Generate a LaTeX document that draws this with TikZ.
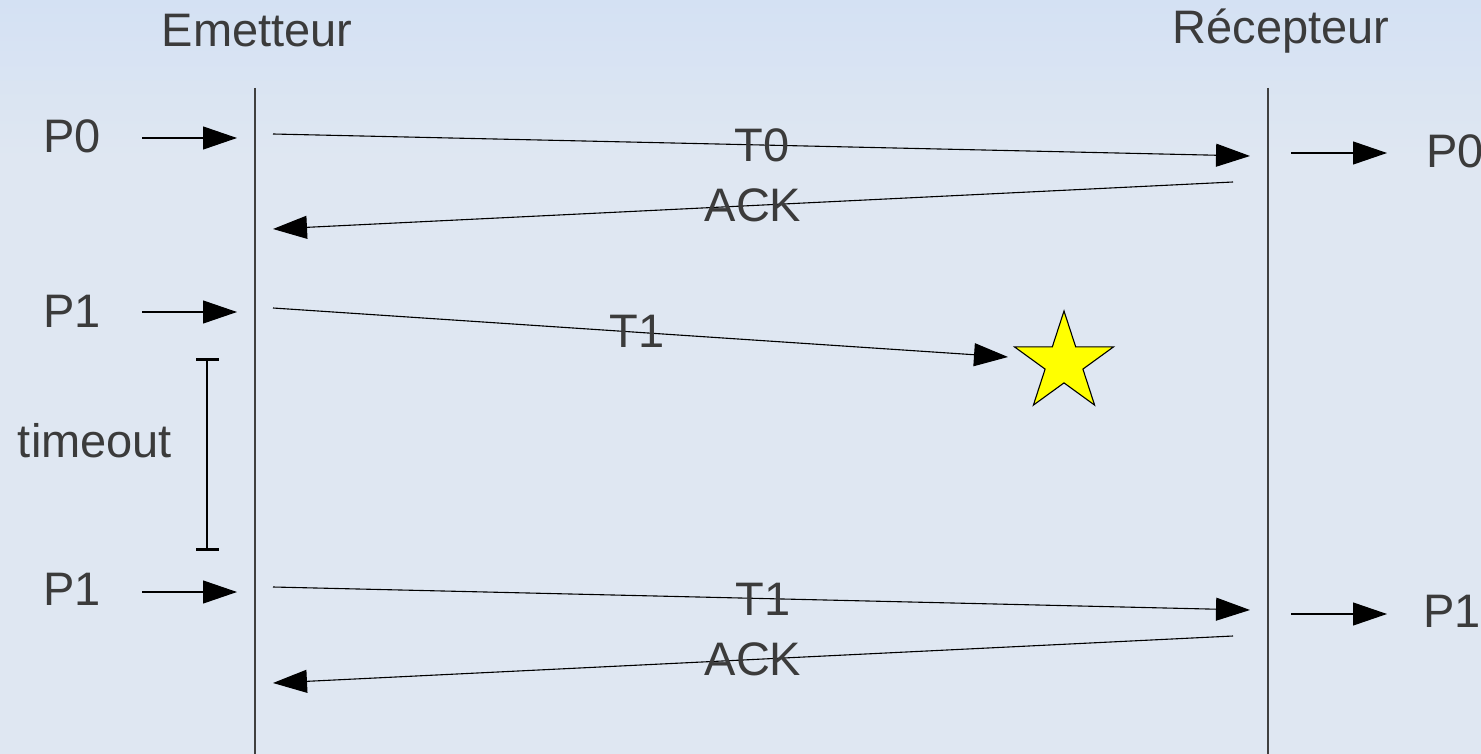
\documentclass[tikz,border=0pt]{standalone}
\usepackage{fontspec}
\setmainfont{Liberation Sans}
\usetikzlibrary{arrows.meta}
\definecolor{bgtop}{HTML}{D4E1F3}
\definecolor{bgbot}{HTML}{DFE7F2}
\definecolor{txt}{HTML}{3B3B3B}
\definecolor{staryellow}{HTML}{FFFF00}
\begin{document}
\begin{tikzpicture}[x=1pt,y=-1pt,
  lbl/.style={text=txt,font=\fontsize{47}{56}\selectfont,inner sep=0pt,anchor=center},
  msg/.style={line width=1.1pt,-{Triangle[length=34pt,width=23pt]}},
  life/.style={line width=1.2pt,draw=black!75},
  tbar/.style={line width=1.1pt},
  tcap/.style={line width=3pt},
  starsty/.style={fill=staryellow,draw=black,line width=1.1pt,line join=miter}]
\useasboundingbox (0,0) rectangle (1481,754);
\fill[bgbot] (0,0) rectangle (1481,754);
\shade[top color=bgtop,bottom color=bgbot] (0,0) rectangle (1481,160);

% headers
\node[lbl] (em) at (257,31) {Emetteur};
\node[lbl] (re) at (1281,31) {Récepteur};

% lifelines
\coordinate (lt) at (255,88); \coordinate (lb) at (255,754);
\coordinate (rt) at (1268,88); \coordinate (rb) at (1268,754);
\draw[life] (lt) -- (lb);
\draw[life] (rt) -- (rb);

% left packet labels
\node[lbl] (p0l) at (72,136) {P0};
\node[lbl] (p1l) at (72,311) {P1};
\node[lbl] (p1l2) at (72,589) {P1};
\node[lbl] (to) at (95,441) {timeout};

% right packet labels
\node[lbl] (p0r) at (1455,151) {P0};
\node[lbl] (p1r) at (1452,611) {P1};

% input arrows
\coordinate (a0s) at (142,138); \coordinate (a0e) at (237,138);
\coordinate (a1s) at (142,312); \coordinate (a1e) at (237,312);
\coordinate (a2s) at (142,592); \coordinate (a2e) at (237,592);
\draw[msg] (a0s) -- (a0e);
\draw[msg] (a1s) -- (a1e);
\draw[msg] (a2s) -- (a2e);

% output arrows
\coordinate (o0s) at (1291,153); \coordinate (o0e) at (1387,153);
\coordinate (o1s) at (1291,614); \coordinate (o1e) at (1387,614);
\draw[msg] (o0s) -- (o0e);
\draw[msg] (o1s) -- (o1e);

% messages
\coordinate (t0s) at (273,134); \coordinate (t0e) at (1250,156);
\coordinate (k0s) at (1233,182); \coordinate (k0e) at (273,229);
\coordinate (t1s) at (273,308); \coordinate (t1e) at (1008,357);
\coordinate (t2s) at (273,587); \coordinate (t2e) at (1250,610);
\coordinate (k2s) at (1233,636); \coordinate (k2e) at (273,683);
\draw[msg] (t0s) -- (t0e);
\draw[msg] (k0s) -- (k0e);
\draw[msg] (t1s) -- (t1e);
\draw[msg] (t2s) -- (t2e);
\draw[msg] (k2s) -- (k2e);

\node[lbl] (lt0) at (762,145) {T0};
\node[lbl] (lk0) at (753,205) {ACK};
\node[lbl] (lt1) at (637,331) {T1};
\node[lbl] (lt2) at (763,599) {T1};
\node[lbl] (lk2) at (753,659) {ACK};

% timeout bracket
\coordinate (bt) at (207,359); \coordinate (bb) at (207,549);
\coordinate (btl) at (196,359); \coordinate (btr) at (219,359);
\coordinate (bbl) at (196,549); \coordinate (bbr) at (219,549);
\draw[tbar] (bt) -- (bb);
\draw[tcap] (btl) -- (btr);
\draw[tcap] (bbl) -- (bbr);

% lost packet star
\draw[starsty] (1064,311) -- (1052.3,346.9) -- (1014.5,346.9) -- (1045.1,369.1)
  -- (1033.4,405.1) -- (1064,382.9) -- (1094.6,405.1) -- (1082.9,369.1)
  -- (1113.5,346.9) -- (1075.7,346.9) -- cycle;
\end{tikzpicture}
\end{document}
